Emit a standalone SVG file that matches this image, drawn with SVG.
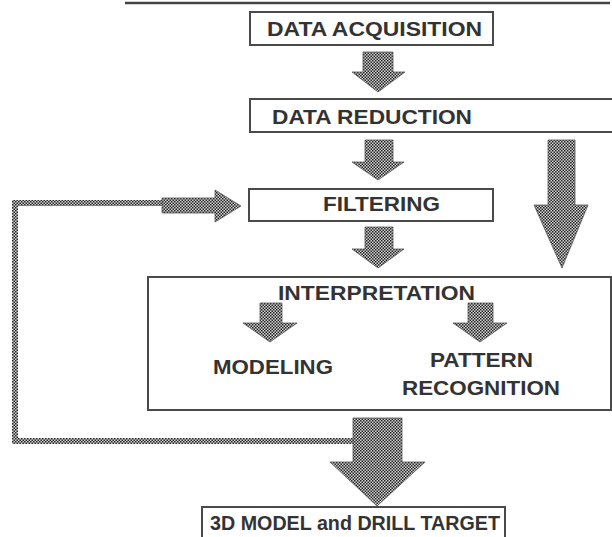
<svg xmlns="http://www.w3.org/2000/svg" width="612" height="537" viewBox="0 0 612 537">
  <defs>
    <!-- halftone checker used for all block arrows -->
    <pattern id="checker" width="3" height="3" patternUnits="userSpaceOnUse">
      <rect width="3" height="3" fill="#d0d0d0"/>
      <rect width="1.5" height="1.5" fill="#262626"/>
      <rect x="1.5" y="1.5" width="1.5" height="1.5" fill="#262626"/>
    </pattern>
    <style>
      .box { fill: #ffffff; stroke: #4a4a4a; stroke-width: 2; }
      .lbl { font-family: "Liberation Sans", Arial, sans-serif; font-weight: bold; font-size: 21px; fill: #333333; }
      .arrow { fill: url(#checker); stroke: #555555; stroke-width: 0.8; stroke-linejoin: miter; }
      .band { fill: url(#checker); }
    </style>
  </defs>

  <rect width="612" height="537" fill="#ffffff"/>

  <!-- heading rule -->
  <line x1="125" y1="3" x2="610" y2="3" stroke="#444444" stroke-width="2.5"/>

  <g id="data-acquisition">
    <rect class="box" x="250" y="12" width="243" height="33"/>
    <text class="lbl" x="267" y="36" textLength="215" lengthAdjust="spacingAndGlyphs">DATA ACQUISITION</text>
  </g>

  <g id="data-reduction">
    <rect class="box" x="250" y="99" width="370" height="33"/>
    <text class="lbl" x="272" y="124" textLength="200" lengthAdjust="spacingAndGlyphs">DATA REDUCTION</text>
  </g>

  <g id="filtering">
    <rect class="box" x="249" y="189" width="244" height="32"/>
    <text class="lbl" x="323" y="211" textLength="117" lengthAdjust="spacingAndGlyphs">FILTERING</text>
  </g>

  <g id="interpretation">
    <rect class="box" x="148" y="277" width="463" height="133"/>
    <text class="lbl" x="278" y="300" textLength="197" lengthAdjust="spacingAndGlyphs">INTERPRETATION</text>
  </g>

  <g id="modeling">
    <text class="lbl" x="213" y="374" textLength="120" lengthAdjust="spacingAndGlyphs">MODELING</text>
  </g>

  <g id="pattern-recognition">
    <text class="lbl" x="430" y="367" textLength="103" lengthAdjust="spacingAndGlyphs">PATTERN</text>
    <text class="lbl" x="402" y="395" textLength="158" lengthAdjust="spacingAndGlyphs">RECOGNITION</text>
  </g>

  <g id="model-and-target">
    <rect class="box" x="202" y="507" width="303" height="40"/>
    <text class="lbl" x="210" y="530" textLength="290" lengthAdjust="spacingAndGlyphs">3D MODEL and DRILL TARGET</text>
  </g>

  <g id="connectors">
    <!-- acquisition to reduction -->
    <polygon class="arrow" points="363,52 393,52 393,72 405,72 378,92 352,72 363,72"/>
    <!-- reduction to filtering -->
    <polygon class="arrow" points="365,140 393,140 393,162 404,162 378,180 352,162 365,162"/>
    <!-- filtering to interpretation -->
    <polygon class="arrow" points="365,227 393,227 393,249 404,249 378,268 352,249 365,249"/>
    <!-- reduction straight to interpretation -->
    <polygon class="arrow" points="548,140 575,140 575,205 588,205 562,268 534,205 548,205"/>
    <!-- interpretation to modeling -->
    <polygon class="arrow" points="260,303 282,303 282,323 297,323 270,342 243,323 260,323"/>
    <!-- interpretation to pattern recognition -->
    <polygon class="arrow" points="468,303 493,303 493,323 507,323 480,342 453,323 468,323"/>
    <!-- feedback loop back to filtering -->
    <rect class="band" x="12" y="438" width="342" height="6"/>
    <rect class="band" x="12" y="200" width="6" height="244"/>
    <rect class="band" x="12" y="200" width="152" height="6"/>
    <polygon class="arrow" points="162,198 215,198 215,190 241,206 215,222 215,213 162,213"/>
    <!-- interpretation to final target -->
    <polygon class="arrow" points="353,418 402,418 402,462 425,462 377,506 330,462 353,462"/>
  </g>
</svg>
